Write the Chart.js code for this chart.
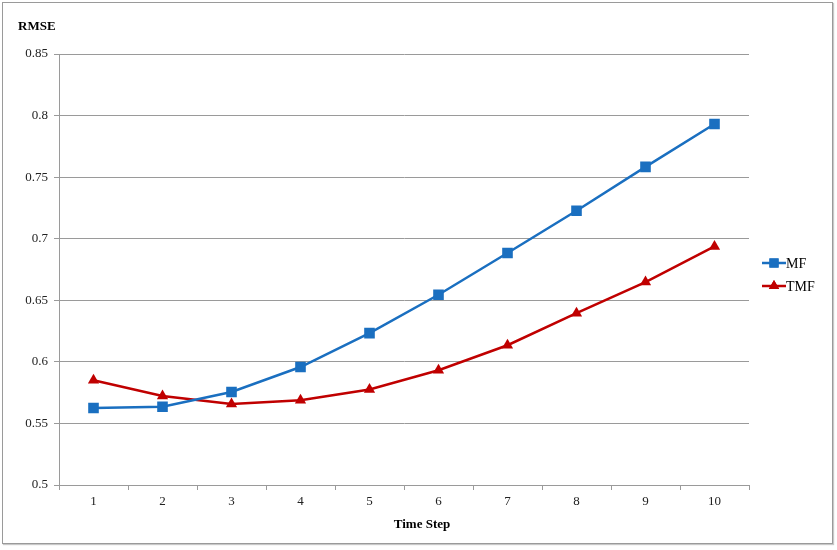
<!DOCTYPE html>
<html>
<head>
<meta charset="utf-8">
<script src="https://cdn.jsdelivr.net/npm/chart.js@4"></script>
<style>
  html, body { margin: 0; padding: 0; background: #ffffff; }
  #wrap { position: relative; width: 837px; height: 550px; }
  #frame { position: absolute; left: 2px; top: 2px; width: 829px; height: 540px; border: 1.5px solid #9a9a9a; box-shadow: 1px 1px 1px #c8c8c8; pointer-events: none; }
  canvas { position: absolute; left: 0; top: 0; }
</style>
</head>
<body>
<div id="wrap">
  <canvas id="c" width="837" height="550"></canvas>
  <div id="frame"></div>
</div>
<script>
const categories = ['1', '2', '3', '4', '5', '6', '7', '8', '9', '10'];
const mfValues = [0.5625, 0.5635, 0.5755, 0.5958, 0.6233, 0.6545, 0.6884, 0.7227, 0.7583, 0.7932];
const tmfValues = [0.5850, 0.5722, 0.5658, 0.5688, 0.5775, 0.5932, 0.6135, 0.6395, 0.6648, 0.6937];
const seriesNames = ['MF', 'TMF'];
const yTitle = 'RMSE';
const xTitle = 'Time Step';

const SERIF = "'Liberation Serif', 'Times New Roman', serif";
const BLUE = '#1a6fc0';
const RED = '#c00000';

const textPlugin = {
  id: 'texts',
  afterDraw(chart) {
    const ctx = chart.ctx;
    const area = chart.chartArea;
    ctx.save();
    ctx.fillStyle = '#000';
    ctx.font = 'bold 13px ' + SERIF;
    ctx.textBaseline = 'middle';
    ctx.textAlign = 'left';
    ctx.fillText(yTitle, 18, 27);
    ctx.textAlign = 'center';
    ctx.fillText(xTitle, (area.left + area.right) / 2 + 18, 525);
    // legend
    const items = [
      { name: seriesNames[0], color: BLUE, style: 'rect', y: 263 },
      { name: seriesNames[1], color: RED, style: 'triangle', y: 286 }
    ];
    items.forEach(it => {
      ctx.strokeStyle = it.color;
      ctx.lineWidth = 2.5;
      ctx.beginPath();
      ctx.moveTo(762, it.y);
      ctx.lineTo(786, it.y);
      ctx.stroke();
      ctx.fillStyle = it.color;
      Chart.helpers.drawPoint(ctx, { pointStyle: it.style, radius: it.style === 'rect' ? 6.5 : 6, rotation: 0, borderWidth: 0 }, 774, it.y);
      ctx.fill();
      ctx.fillStyle = '#000';
      ctx.font = '14px ' + SERIF;
      ctx.textAlign = 'left';
      ctx.fillText(it.name, 786, it.y + 1);
    });
    ctx.restore();
  }
};

new Chart(document.getElementById('c'), {
  type: 'line',
  data: {
    labels: categories,
    datasets: [
      {
        label: seriesNames[0],
        data: mfValues,
        borderColor: BLUE,
        backgroundColor: BLUE,
        borderWidth: 2.5,
        pointStyle: 'rect',
        pointRadius: 7.5,
        pointHoverRadius: 7.5,
        pointBorderWidth: 0,
        tension: 0
      },
      {
        label: seriesNames[1],
        data: tmfValues,
        borderColor: RED,
        backgroundColor: RED,
        borderWidth: 2.5,
        pointStyle: 'triangle',
        pointRadius: 6.5,
        pointHoverRadius: 6.5,
        pointBorderWidth: 0,
        tension: 0
      }
    ]
  },
  options: {
    responsive: false,
    animation: false,
    devicePixelRatio: 1,
    layout: { padding: { left: 0, right: 88, top: 54, bottom: 0 } },
    plugins: {
      legend: { display: false },
      tooltip: { enabled: false }
    },
    scales: {
      x: {
        type: 'category',
        offset: true,
        afterFit(scale) { scale.height = 65; },
        grid: {
          offset: true,
          drawOnChartArea: false,
          drawTicks: true,
          tickLength: 5,
          color: '#9a9a9a',
          lineWidth: 1
        },
        border: { display: true, color: '#9a9a9a', width: 1 },
        ticks: {
          color: '#222',
          font: { family: SERIF, size: 13 },
          padding: 4,
          maxRotation: 0
        }
      },
      y: {
        min: 0.5,
        max: 0.85,
        afterFit(scale) { scale.width = 59; },
        grid: {
          color: '#9a9a9a',
          lineWidth: 1,
          drawTicks: true,
          tickLength: 5
        },
        border: { display: true, color: '#9a9a9a', width: 1 },
        ticks: {
          stepSize: 0.05,
          color: '#222',
          font: { family: SERIF, size: 13 },
          padding: 6,
          callback: v => String(+v.toFixed(2))
        }
      }
    }
  },
  plugins: [textPlugin]
});
</script>
</body>
</html>
